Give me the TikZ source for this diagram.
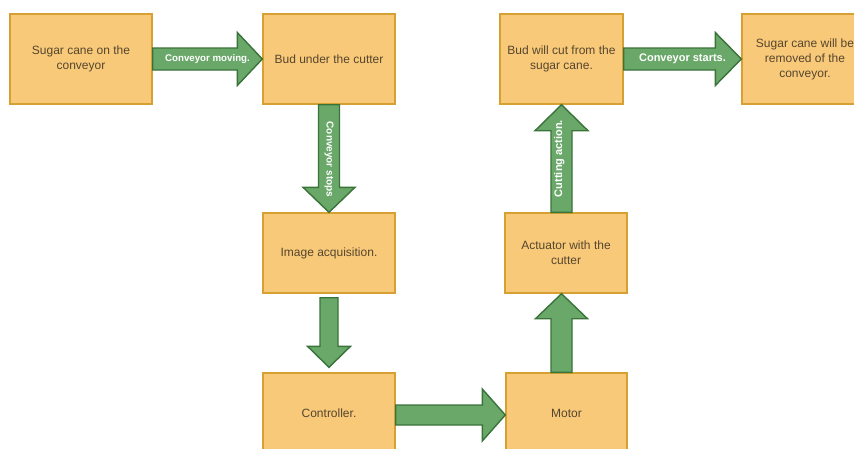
\documentclass[tikz,border=0pt]{standalone}
\usepackage{fontspec}
\setmainfont{Liberation Sans}
\usetikzlibrary{calc}
\definecolor{boxfill}{RGB}{249,201,122}
\definecolor{boxline}{RGB}{214,160,50}
\definecolor{arrfill}{RGB}{106,168,106}
\definecolor{arrline}{RGB}{58,115,58}
\definecolor{boxtext}{RGB}{85,70,45}
\tikzset{
  box/.style={draw=boxline, fill=boxfill, line width=1.4pt, rectangle, align=center,
    text=boxtext, font=\fontsize{12}{15}\selectfont, inner sep=0pt},
  barrow/.style={draw=arrline, fill=arrfill, line width=1.4pt, line join=miter},
  alabel/.style={text=white, inner sep=0pt}
}
% horizontal block arrow: start, tip, half shaft, half head, head length
\newcommand\harr[5]{%
  \path[barrow] let \p1=(#1), \p2=(#2), \p3=($(#2)!#5!(#1)$) in
    (\x1,\y1+#3) -- (\x3,\y1+#3) -- (\x3,\y1+#4) -- (\x2,\y1) --
    (\x3,\y1-#4) -- (\x3,\y1-#3) -- (\x1,\y1-#3) -- cycle;}
% vertical block arrow
\newcommand\varr[5]{%
  \path[barrow] let \p1=(#1), \p2=(#2), \p3=($(#2)!#5!(#1)$) in
    (\x1-#3,\y1) -- (\x1-#3,\y3) -- (\x1-#4,\y3) -- (\x1,\y2) --
    (\x1+#4,\y3) -- (\x1+#3,\y3) -- (\x1+#3,\y1) -- cycle;}
\begin{document}
\begin{tikzpicture}[x=1pt,y=-1pt]
\useasboundingbox (0,0) rectangle (854,448);
\clip (0,0) rectangle (854,448);
\fill[white] (0,0) rectangle (854,448);
% boxes
\node[box, minimum width=142pt, minimum height=90pt] (sc) at (81,59) {Sugar cane on the\\conveyor};
\node[box, minimum width=132pt, minimum height=90pt] (bud) at (329,59) {Bud under the cutter};
\node[box, minimum width=132pt, minimum height=80pt] (img) at (329,253) {Image acquisition.};
\node[box, minimum width=132pt, minimum height=80pt] (ctrl) at (329,413) {Controller.};
\node[box, minimum width=121pt, minimum height=80pt] (mot) at (566.5,413) {Motor};
\node[box, minimum width=122pt, minimum height=80pt] (act) at (566,253) {Actuator with the\\cutter};
\node[box, minimum width=123pt, minimum height=90pt] (cut) at (561.5,59) {Bud will cut from the\\sugar cane.};
\node[box, minimum width=126pt, minimum height=90pt] (rem) at (805,59) {Sugar cane will be\\removed of the\\conveyor.};
% arrows
\harr{sc.east}{bud.west}{11pt}{26.5pt}{25pt}
\harr{cut.east}{rem.west}{11pt}{26.5pt}{26pt}
\harr{$(ctrl.east)+(0,2)$}{$(mot.west)+(0,2)$}{10pt}{26pt}{23pt}
\varr{bud.south}{img.north}{10.5pt}{26pt}{25pt}
\varr{$(img.south)+(0,4)$}{$(ctrl.north)+(0,-5)$}{9pt}{21.5pt}{21pt}
\varr{$(mot.north)+(-5,0)$}{$(act.south)+(-4.5,0)$}{10.5pt}{26pt}{25pt}
\varr{$(act.north)+(-4.5,0)$}{cut.south}{10.5pt}{26.5pt}{26pt}
% labels
\node[alabel, font=\fontsize{9.7}{11}\selectfont\bfseries] (l1) at ($(sc.east)!0.5!(bud.west)$) {Conveyor moving.};
\node[alabel, font=\fontsize{11}{13}\selectfont\bfseries] (l2) at ($(cut.east)!0.5!(rem.west)$) {Conveyor starts.};
\node[alabel, font=\fontsize{10}{12}\selectfont\bfseries, rotate=-90] (l3) at ($(bud.south)!0.5!(img.north)+(0,1)$) {Conveyor stops};
\node[alabel, font=\fontsize{11}{13}\selectfont\bfseries, rotate=90] (l4) at ($(act.north)!0.5!(cut.south)+(-4.5,0)$) {Cutting action.};
\end{tikzpicture}
\end{document}
